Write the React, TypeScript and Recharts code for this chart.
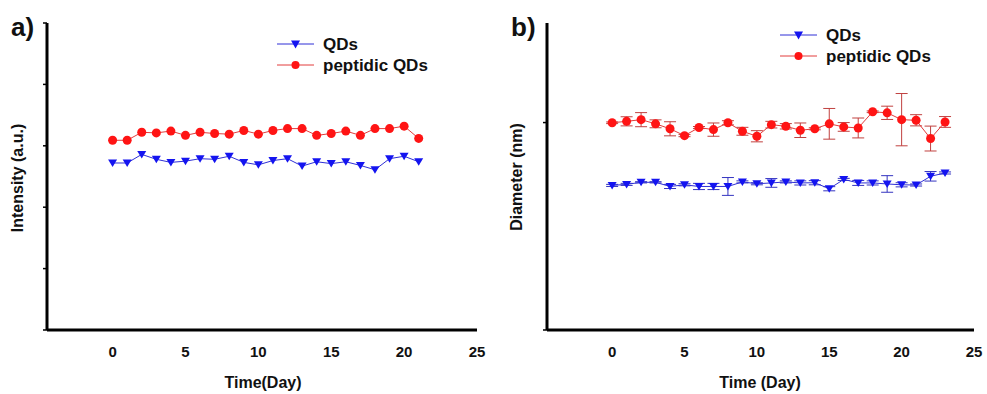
import { LineChart, Line, XAxis, YAxis, ErrorBar } from "recharts";

// panel a: fluorescence intensity over time
const daysA = [0, 1, 2, 3, 4, 5, 6, 7, 8, 9, 10, 11, 12, 13, 14, 15, 16, 17, 18, 19, 20, 21];
const intensityPeptidic = [3.09, 3.09, 3.22, 3.21, 3.24, 3.17, 3.22, 3.2, 3.19, 3.25, 3.19, 3.25, 3.28, 3.28, 3.17, 3.2, 3.24, 3.17, 3.28, 3.28, 3.32, 3.12];
const intensityQDs = [2.72, 2.72, 2.86, 2.78, 2.73, 2.75, 2.79, 2.78, 2.83, 2.73, 2.69, 2.76, 2.79, 2.67, 2.74, 2.71, 2.74, 2.68, 2.61, 2.79, 2.83, 2.74];
const intensityTicks = [0, 1, 2, 3, 4, 5];

// panel b: hydrodynamic diameter over time
const daysB = [0, 1, 2, 3, 4, 5, 6, 7, 8, 9, 10, 11, 12, 13, 14, 15, 16, 17, 18, 19, 20, 21, 22, 23];
const diameterPeptidic = [9.99, 10.06, 10.14, 9.94, 9.7, 9.37, 9.76, 9.66, 9.99, 9.58, 9.34, 9.9, 9.82, 9.63, 9.7, 9.94, 9.79, 9.74, 10.52, 10.47, 10.14, 10.11, 9.23, 10.03];
const diameterPeptidicErr = [0.04, 0.22, 0.34, 0.19, 0.34, 0.05, 0.05, 0.32, 0.1, 0.19, 0.27, 0.16, 0.13, 0.35, 0.05, 0.74, 0.21, 0.48, 0.04, 0.32, 1.26, 0.27, 0.6, 0.26];
const diameterQDs = [6.97, 7.02, 7.12, 7.12, 6.92, 7.0, 6.92, 6.92, 6.92, 7.14, 7.05, 7.09, 7.14, 7.09, 7.1, 6.81, 7.26, 7.09, 7.09, 7.04, 7.0, 6.99, 7.41, 7.57];
const diameterQDsErr = [0.05, 0.05, 0.03, 0.03, 0.1, 0.05, 0.15, 0.15, 0.43, 0.05, 0.05, 0.21, 0.05, 0.1, 0.1, 0.1, 0.05, 0.12, 0.1, 0.4, 0.1, 0.05, 0.23, 0.05];
const diameterTicks = [0, 10];

const timeTicks = [0, 5, 10, 15, 20, 25];

const RED = "#ff1414";
const RED_LINE = "#e23c3c";
const RED_ERR = "#c0403f";
const BLUE = "#1414f0";
const BLUE_LINE = "#2f2fd6";
const BLUE_ERR = "#3434c0";
const FONT = '"Liberation Sans", Arial, sans-serif';

const dataA = daysA.map((d, i) => ({ day: d, peptidic: intensityPeptidic[i], qds: intensityQDs[i] }));
const dataB = daysB.map((d, i) => ({
  day: d,
  peptidic: diameterPeptidic[i],
  peptidicErr: diameterPeptidicErr[i],
  qds: diameterQDs[i],
  qdsErr: diameterQDsErr[i],
}));

const TriangleDot = (props: any) => {
  const { cx, cy, index } = props;
  if (cx == null || cy == null) return null;
  return <path key={index} d={`M${cx - 4.5},${cy - 3.5}L${cx + 4.5},${cy - 3.5}L${cx},${cy + 4}Z`} fill={BLUE} />;
};

const CircleDot = (props: any) => {
  const { cx, cy, index } = props;
  if (cx == null || cy == null) return null;
  return <circle key={index} cx={cx} cy={cy} r={4.5} fill={RED} />;
};

// legend drawn by hand so the triangle marker matches the series
const LegendBox = ({ left, top }: { left: number; top: number }) => (
  <svg width={170} height={44} style={{ position: "absolute", left, top, overflow: "visible" }}>
    <line x1={0} y1={10} x2={37} y2={10} stroke={BLUE_LINE} strokeWidth={1} />
    <path d="M14,6.5L23,6.5L18.5,14.5Z" fill={BLUE} />
    <text x={46} y={16} fontSize={17} fontWeight="bold" fontFamily={FONT} fill="#111">QDs</text>
    <line x1={0} y1={31} x2={37} y2={31} stroke={RED_LINE} strokeWidth={1} />
    <circle cx={18.5} cy={31} r={4} fill={RED} />
    <text x={46} y={37} fontSize={17} fontWeight="bold" fontFamily={FONT} fill="#111">peptidic QDs</text>
  </svg>
);

const tickStyle = { fontSize: 15, fontWeight: "bold", fill: "#111", fontFamily: FONT };

const abs = (left: number, top: number, extra: any = {}) => ({
  position: "absolute" as const,
  left,
  top,
  fontFamily: FONT,
  fontWeight: "bold" as const,
  color: "#111",
  whiteSpace: "nowrap" as const,
  ...extra,
});

export default function App() {
  return (
    <div style={{ position: "absolute", left: 0, top: 0, width: 987, height: 394, background: "#fff", overflow: "hidden" }}>
      <div style={{ position: "absolute", left: 0, top: 0 }}>
        <LineChart width={487} height={394} data={dataA} margin={{ top: 23, right: 10, bottom: 34, left: 46 }}>
          <XAxis
            dataKey="day"
            type="number"
            domain={[-4.5, 25]}
            ticks={timeTicks}
            allowDataOverflow
            tickLine={false}
            tickMargin={10}
            height={30}
            axisLine={{ stroke: "#000", strokeWidth: 3 }}
            tick={tickStyle}
          />
          <YAxis
            width={1}
            domain={[0, 5]}
            ticks={intensityTicks}
            tickFormatter={() => ""}
            tickSize={4}
            tickLine={{ stroke: "#000", strokeWidth: 1.5 }}
            axisLine={{ stroke: "#000", strokeWidth: 3 }}
          />
          <Line dataKey="qds" name="QDs" stroke={BLUE_LINE} strokeWidth={1} dot={TriangleDot} isAnimationActive={false} />
          <Line dataKey="peptidic" name="peptidic QDs" stroke={RED_LINE} strokeWidth={1} dot={CircleDot} isAnimationActive={false} />
        </LineChart>
      </div>
      <div style={{ position: "absolute", left: 490, top: 0 }}>
        <LineChart width={497} height={394} data={dataB} margin={{ top: 23, right: 13, bottom: 34, left: 56 }}>
          <XAxis
            dataKey="day"
            type="number"
            domain={[-4.5, 25]}
            ticks={timeTicks}
            allowDataOverflow
            tickLine={false}
            tickMargin={10}
            height={30}
            axisLine={{ stroke: "#000", strokeWidth: 3 }}
            tick={tickStyle}
          />
          <YAxis
            width={1}
            domain={[0, 14.8]}
            ticks={diameterTicks}
            tickFormatter={() => ""}
            tickSize={4}
            tickLine={{ stroke: "#000", strokeWidth: 1.5 }}
            axisLine={{ stroke: "#000", strokeWidth: 3 }}
          />
          <Line dataKey="qds" name="QDs" stroke={BLUE_LINE} strokeWidth={1} dot={TriangleDot} isAnimationActive={false}>
            <ErrorBar dataKey="qdsErr" width={6} stroke={BLUE_ERR} strokeWidth={1} direction="y" />
          </Line>
          <Line dataKey="peptidic" name="peptidic QDs" stroke={RED_LINE} strokeWidth={1} dot={CircleDot} isAnimationActive={false}>
            <ErrorBar dataKey="peptidicErr" width={6} stroke={RED_ERR} strokeWidth={1} direction="y" />
          </Line>
        </LineChart>
      </div>

      <LegendBox left={277} top={34} />
      <LegendBox left={780} top={25} />

      <div style={abs(11, 12, { fontSize: 26 })}>a)</div>
      <div style={abs(511, 12, { fontSize: 26 })}>b)</div>

      <div style={abs(18, 178, { fontSize: 16, transform: "translate(-50%, -50%) rotate(-90deg)" })}>Intensity (a.u.)</div>
      <div style={abs(263, 383, { fontSize: 16, transform: "translate(-50%, -50%)" })}>Time(Day)</div>

      <div style={abs(517, 177, { fontSize: 16, transform: "translate(-50%, -50%) rotate(-90deg)" })}>Diameter (nm)</div>
      <div style={abs(760, 383, { fontSize: 16, transform: "translate(-50%, -50%)" })}>Time (Day)</div>
    </div>
  );
}
